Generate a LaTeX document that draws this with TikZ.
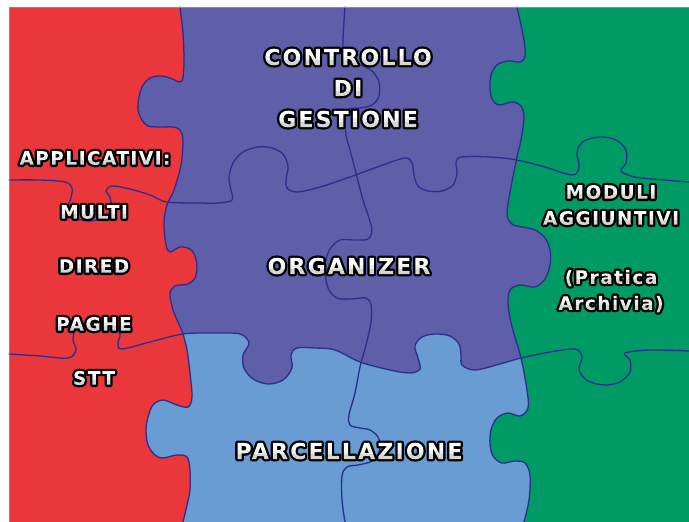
\documentclass[tikz,border=0pt]{standalone}
\usepackage{fontspec}
\setmainfont{DejaVu Sans}
\newfontfamily\puzzlefont[LetterSpace=10]{DejaVu Sans}
\newfontfamily\puzzlefontS[LetterSpace=8]{DejaVu Sans}
\usepackage{tikz}
\usetikzlibrary{positioning}
\definecolor{pzRed}{HTML}{E9373C}
\definecolor{pzPurple}{HTML}{5E5FA8}
\definecolor{pzBlue}{HTML}{689CD3}
\definecolor{pzGreen}{HTML}{009B64}
\definecolor{seamC}{HTML}{2B2E8E}
\definecolor{frameC}{HTML}{8A8A8A}
% outlined lettering: stroke the glyphs black, then paint their inside
\newcommand{\outl}[1]{\special{x:gsave}%
  \special{pdf:literal direct 5 Tr 4.6 w 1 j 0 0 0 RG}#1%
  \special{pdf:literal 0.84 g -3000 -3000 6000 3005 re f
    0.93 g -3000 5 6000 4 re f 1 g -3000 9 6000 3000 re f}%
  \special{x:grestore}}
\newcommand{\lblCtrl}{\outl{CONTROLLO}\\\outl{DI}\\\outl{GESTIONE}}
\newcommand{\lblOrg}{\outl{ORGANIZER}}
\newcommand{\lblParc}{\outl{PARCELLAZIONE}}
\newcommand{\lblApp}{\outl{APPLICATIVI:}}
\newcommand{\lblMulti}{\outl{MULTI}}
\newcommand{\lblDired}{\outl{DIRED}}
\newcommand{\lblPaghe}{\outl{PAGHE}}
\newcommand{\lblStt}{\outl{STT}}
\newcommand{\lblModuli}{\outl{MODULI}\\\outl{AGGIUNTIVI}}
\newcommand{\lblPratica}{\outl{(Pratica}\\\outl{Archivia)}}

\begin{document}
\begin{tikzpicture}[
  x=1pt, y=-1pt,
  seam/.style   ={draw=seamC, line width=1.3pt, line join=round, line cap=round},
  lbl/.style    ={font=\puzzlefontS\bfseries\fontsize{18.5}{26}\selectfont,
                  text=white, align=center, inner sep=0pt},
  lblBig/.style ={lbl, font=\puzzlefont\bfseries\fontsize{22}{31}\selectfont},
  % ---- the seams between the pieces, as path pieces --------------------------
  edgeVa/.style={insert path={-- plot[smooth, tension=0.55] coordinates {
    (180,7) (183,33) (184,60) (183,77) (180,82) (170,78) (160,76) (150,78)
    (143,85) (139,97) (138,110) (142,120) (148,126) (160,127) (173,127)
    (180,130) (183,140) (181,165) (174,190) (167,205) (164,223) (166,245)
    (170,252) (180,247) (190,249) (195,256) (197,267) (195,278) (188,284)
    (175,286) (170,294) (173,310) (178,322) (183,334) (187,350) (190,373)
    (192,397) (188,407) (177,405) (163,400) (153,405) (148,417) (146,430)
    (148,445) (155,455) (163,458) (177,455) (187,457) (190,470) (190,490)
    (187,505) (183,522)}}},
  edgeVb/.style={insert path={-- plot[smooth, tension=0.55] coordinates {
    (345,7) (343,40) (344,58) (349,64) (360,65) (372,71) (379,82) (379,96)
    (372,105) (360,108) (349,109) (345,118) (346,135) (350,150) (357,177)
    (363,200) (368,215) (372,230) (368,239) (355,240) (340,240) (330,249)
    (326,260) (325,272) (328,288) (337,298) (352,299) (366,298) (371,305)
    (371,322) (366,345) (360,367) (355,393) (349,415) (350,425) (360,428)
    (370,430) (378,437) (380,447) (377,457) (370,462) (358,465) (347,467)
    (342,476) (342,500) (345,522)}}},
  edgeVc/.style={insert path={-- plot[smooth, tension=0.55] coordinates {
    (517,7) (524,40) (525,56) (520,62) (508,61) (497,65) (491,75) (490,88)
    (492,99) (499,105) (512,102) (521,106) (524,117) (521,140) (517,157)
    (511,187) (507,214) (512,224) (522,227) (535,230) (545,238) (550,250)
    (550,265) (545,279) (535,287) (520,285) (510,290) (508,303) (510,318)
    (514,334) (521,358) (527,390) (528,408) (520,416) (508,413) (497,418)
    (491,430) (490,444) (493,456) (502,463) (515,461) (525,463) (530,475)
    (529,500) (524,522)}}},
  edgeHa/.style={insert path={-- plot[smooth, tension=0.55] coordinates {
    (9,180) (40,180) (65,182) (72,188) (71,198) (68,208) (73,217) (88,221)
    (103,218) (111,209) (110,197) (106,191) (112,186) (130,189) (150,195)
    (167,202) (200,203) (218,203) (232,200) (231,190) (229,178) (233,163)
    (243,152) (258,147) (272,148) (283,154) (288,166) (286,180) (287,188)
    (297,192) (320,187) (350,177) (380,166) (405,158) (412,163) (414,175)
    (418,186) (428,191) (442,191) (453,185) (457,173) (456,162) (462,157)
    (490,157) (517,160) (545,167) (572,175) (579,167) (577,152) (584,141)
    (600,137) (616,140) (626,150) (626,163) (621,171) (635,177) (665,180)
    (689,182)}}},
  edgeHb/.style={insert path={-- plot[smooth, tension=0.55] coordinates {
    (9,354) (40,356) (68,358) (76,350) (73,340) (76,329) (87,323) (100,322)
    (113,326) (120,334) (118,343) (122,349) (150,342) (183,334) (215,333)
    (240,334) (249,343) (243,355) (244,368) (253,379) (268,384) (283,380)
    (292,368) (291,355) (297,348) (315,348) (335,350) (360,362) (390,370)
    (410,373) (420,369) (418,358) (415,346) (422,337) (435,334) (450,336)
    (459,344) (461,356) (462,365) (475,370) (500,364) (521,358) (550,352)
    (575,349) (582,357) (579,370) (588,381) (605,385) (620,382) (630,372)
    (630,360) (625,353) (650,350) (689,351)}}},
]
\useasboundingbox (0,0) rectangle (689,522);
\fill[white] (0,0) rectangle (689,522);

% ---- the four colours ------------------------------------------------------
\fill[pzPurple] (9,7) rectangle (689,522);
\fill[pzBlue]   (9,354) [edgeHb] -- (689,522) -- (9,522) -- cycle;
\fill[pzRed]    (9,7) -- (180,7) [edgeVa] -- (9,522) -- cycle;
\fill[pzGreen]  (689,7) -- (517,7) [edgeVc] -- (689,522) -- cycle;

% ---- seams -----------------------------------------------------------------
\path[seam] (180,7) [edgeVa];
\path[seam] (345,7) [edgeVb];
\path[seam] (517,7) [edgeVc];
\path[seam] (9,180) [edgeHa];
\path[seam] (9,354) [edgeHb];

% ---- frame -----------------------------------------------------------------
\draw[frameC, line width=1pt] (9,522) -- (9,7) -- (689,7);

% ---- labels ----------------------------------------------------------------
\node[lblBig] (ctrl) at (348,88)  {\lblCtrl};
\node[lblBig] (org)  at (349,266) {\lblOrg};
\node[lblBig] (parc) at (349,451) {\lblParc};

\node[lbl] (app)   at (95,158) {\lblApp};
\node[lbl] (multi) at (94,212) {\lblMulti};
\node[lbl] (dired) at (94,266) {\lblDired};
\node[lbl] (paghe) at (94,324) {\lblPaghe};
\node[lbl] (stt)   at (94,378) {\lblStt};

\node[lbl] (moduli)  at (611,205) {\lblModuli};
\node[lbl] (pratica) at (611,291) {\lblPratica};

\end{tikzpicture}
\end{document}
